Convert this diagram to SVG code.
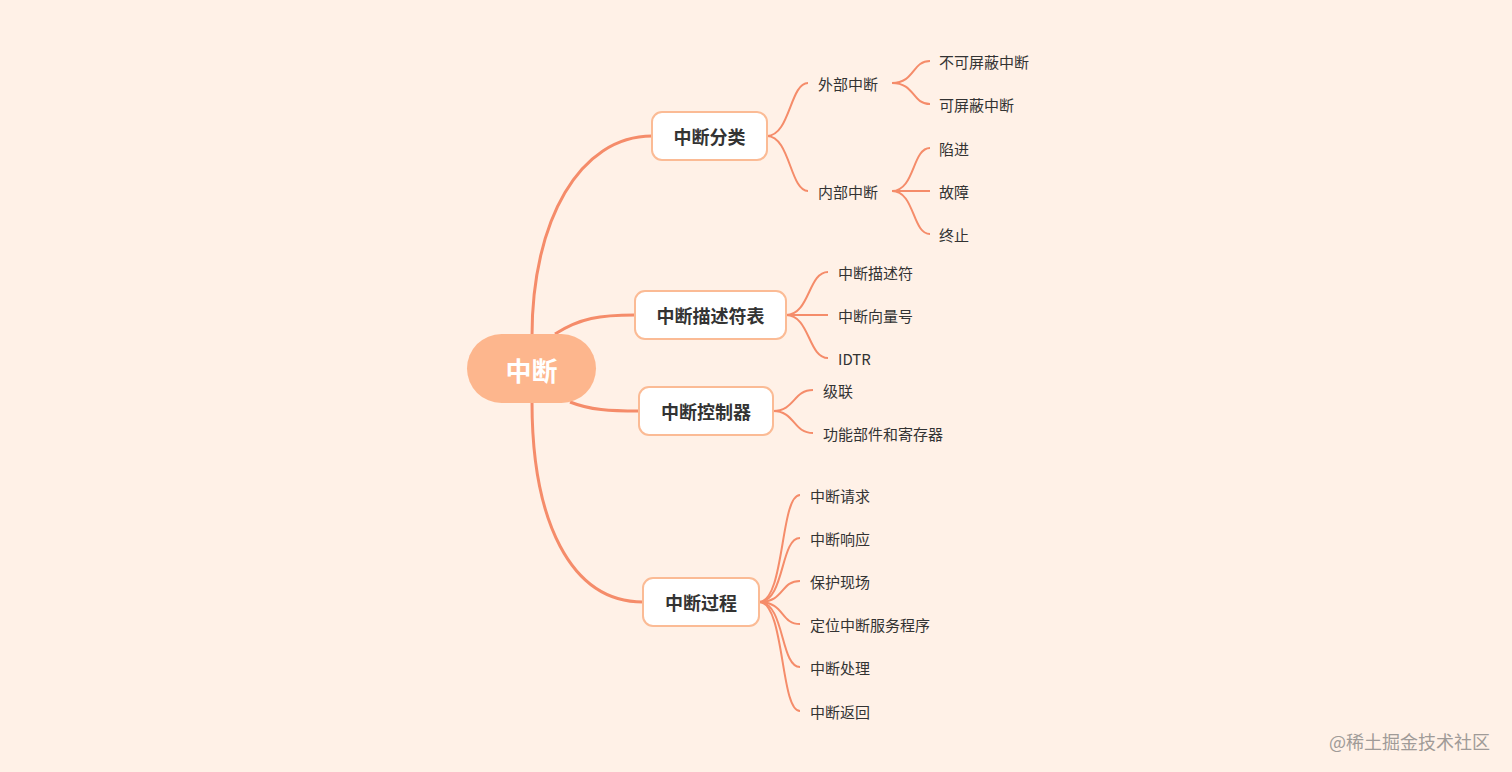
<svg xmlns="http://www.w3.org/2000/svg" width="1512" height="772" viewBox="0 0 1512 772">
<style>
.bg{fill:#fff1e7}
.l1{fill:none;stroke:#f58c6a;stroke-width:3}
.l2{fill:none;stroke:#f58c6a;stroke-width:2}
.box{fill:#fff;stroke:#fbbb95;stroke-width:2}
.bt{font-family:"Noto Sans CJK SC","Noto Sans",sans-serif;font-weight:bold;font-size:18px;fill:#333;text-anchor:middle;dominant-baseline:central}
.lt{font-family:"Noto Sans CJK SC","Noto Sans",sans-serif;font-size:15px;fill:#333;dominant-baseline:central}
</style>
<rect class="bg" x="0" y="0" width="1512" height="772"/>
<g id="connectors">
<path class="l1" d="M532,336 C532,220 580,136 652,136"/>
<path class="l1" d="M555,334 C580,318 600,315 635,315"/>
<path class="l1" d="M570,402 C590,410 610,411 639,411"/>
<path class="l1" d="M532,402 C532,520 570,602 643,602"/>
<path class="l2" d="M767,136 C790,136 790,83 808,83"/>
<path class="l2" d="M767,136 C790,136 790,191 808,191"/>
<path class="l2" d="M892,83 C915,83 912,61 930,61"/>
<path class="l2" d="M892,83 C915,83 912,104 930,104"/>
<path class="l2" d="M892,191 C915,191 912,148 930,148"/>
<path class="l2" d="M892,191 L930,191"/>
<path class="l2" d="M892,191 C915,191 912,234 930,234"/>
<path class="l2" d="M786,315 C810,315 808,272 828,272"/>
<path class="l2" d="M786,315 L828,315"/>
<path class="l2" d="M786,315 C810,315 808,358 828,358"/>
<path class="l2" d="M773,411 C795,411 793,390 813,390"/>
<path class="l2" d="M773,411 C795,411 793,433 813,433"/>
<path class="l2" d="M759,602 C785,602 780,495 800,495"/>
<path class="l2" d="M759,602 C785,602 780,538 800,538"/>
<path class="l2" d="M759,602 C785,602 780,581 800,581"/>
<path class="l2" d="M759,602 C785,602 780,624 800,624"/>
<path class="l2" d="M759,602 C785,602 780,667 800,667"/>
<path class="l2" d="M759,602 C785,602 780,711 800,711"/>
</g>
<g id="root"><rect x="467" y="334" width="129" height="69" rx="34.5" fill="#fdb68d"/><text class="bt" x="531.5" y="369" style="fill:#fff;font-size:26px">中断</text></g>
<g id="b1"><rect class="box" x="652" y="112" width="115" height="48" rx="10"/><text class="bt" x="709.5" y="136">中断分类</text></g>
<g id="b2"><rect class="box" x="635" y="291" width="151" height="48" rx="10"/><text class="bt" x="710.5" y="315">中断描述符表</text></g>
<g id="b3"><rect class="box" x="639" y="387" width="134" height="48" rx="10"/><text class="bt" x="706" y="411">中断控制器</text></g>
<g id="b4"><rect class="box" x="643" y="578" width="116" height="48" rx="10"/><text class="bt" x="701" y="602">中断过程</text></g>
<g id="n-wb"><text class="lt" x="818" y="83">外部中断</text></g>
<g id="n-nb"><text class="lt" x="818" y="191">内部中断</text></g>
<g id="n1"><text class="lt" x="939" y="61">不可屏蔽中断</text></g>
<g id="n2"><text class="lt" x="939" y="104">可屏蔽中断</text></g>
<g id="n3"><text class="lt" x="939" y="148">陷进</text></g>
<g id="n4"><text class="lt" x="939" y="191">故障</text></g>
<g id="n5"><text class="lt" x="939" y="234">终止</text></g>
<g id="n6"><text class="lt" x="838" y="272">中断描述符</text></g>
<g id="n7"><text class="lt" x="838" y="315">中断向量号</text></g>
<g id="n8"><text class="lt" x="838" y="358">IDTR</text></g>
<g id="n9"><text class="lt" x="823" y="390">级联</text></g>
<g id="n10"><text class="lt" x="823" y="433">功能部件和寄存器</text></g>
<g id="n11"><text class="lt" x="810" y="495">中断请求</text></g>
<g id="n12"><text class="lt" x="810" y="538">中断响应</text></g>
<g id="n13"><text class="lt" x="810" y="581">保护现场</text></g>
<g id="n14"><text class="lt" x="810" y="624">定位中断服务程序</text></g>
<g id="n15"><text class="lt" x="810" y="667">中断处理</text></g>
<g id="n16"><text class="lt" x="810" y="711">中断返回</text></g>
<text x="1490" y="741" text-anchor="end" dominant-baseline="central" font-family="Noto Sans CJK SC,sans-serif" font-size="18" fill="#a09b98">@稀土掘金技术社区</text>
</svg>
